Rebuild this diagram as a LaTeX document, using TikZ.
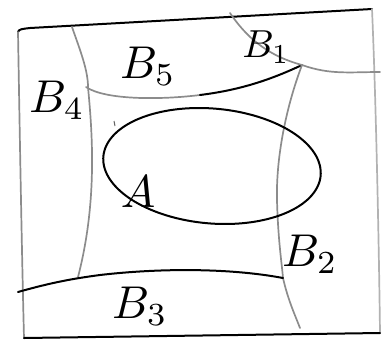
\documentclass[tikz,border=0pt]{standalone}
\begin{document}
\begin{tikzpicture}[x=1pt,y=-1pt,
  ink/.style={line width=2pt,black,line cap=round,line join=round},
  pencil/.style={line width=1.7pt,black!45,line cap=round,line join=round},
  lab/.style={scale=4.6,inner sep=0pt}]
\useasboundingbox (0,0) rectangle (383,341);
% outer frame
\draw[ink] (18,32) .. controls (19,29) and (22,29) .. (30,28) -- (372,9);
\draw[pencil] (18,32) .. controls (20,150) and (22,260) .. (24,338);
\draw[pencil,black!30] (372,9) .. controls (376,100) and (379,250) .. (380,333);
\draw[ink] (24,338) -- (380,333);
% B4 boundary
\draw[pencil] (72,27) .. controls (80,50) and (88,70) .. (88,87)
  .. controls (92,130) and (98,200) .. (78,277);
% B5 boundary
\draw[pencil] (86,87) .. controls (105,100) and (160,100) .. (200,95);
\draw[ink] (200,95) .. controls (240,90) and (270,80) .. (302,65);
% B1 boundary
\draw[pencil] (230,13) .. controls (245,35) and (265,55) .. (302,65)
  .. controls (330,75) and (350,72) .. (380,72);
% B2 boundary
\draw[pencil] (302,65) .. controls (285,110) and (276,160) .. (277,200)
  .. controls (278,240) and (282,265) .. (283,278)
  .. controls (288,300) and (295,315) .. (300,328);
% B3 boundary
\draw[ink] (18,292) .. controls (50,283) and (70,279) .. (100,275)
  .. controls (160,268) and (230,268) .. (283,278);
% set A
\draw[ink] plot[domain=0:360,samples=72,smooth cycle]
  ({212+108*cos(\x)+13*sin(\x)},{166+58*sin(\x)});
\draw[line width=1pt,black!60] (114,121) -- (115,126);
% labels
\node[lab] (b4) at (57,100) {$B_4$};
\node[lab] (b5) at (148,66) {$B_5$};
\node[lab,scale=0.85] (b1) at (266,47) {$B_1$};
\node[lab] (a) at (138,192) {$A$};
\node[lab] (b2) at (310,254) {$B_2$};
\node[lab] (b3) at (140,306) {$B_3$};
\end{tikzpicture}
\end{document}
